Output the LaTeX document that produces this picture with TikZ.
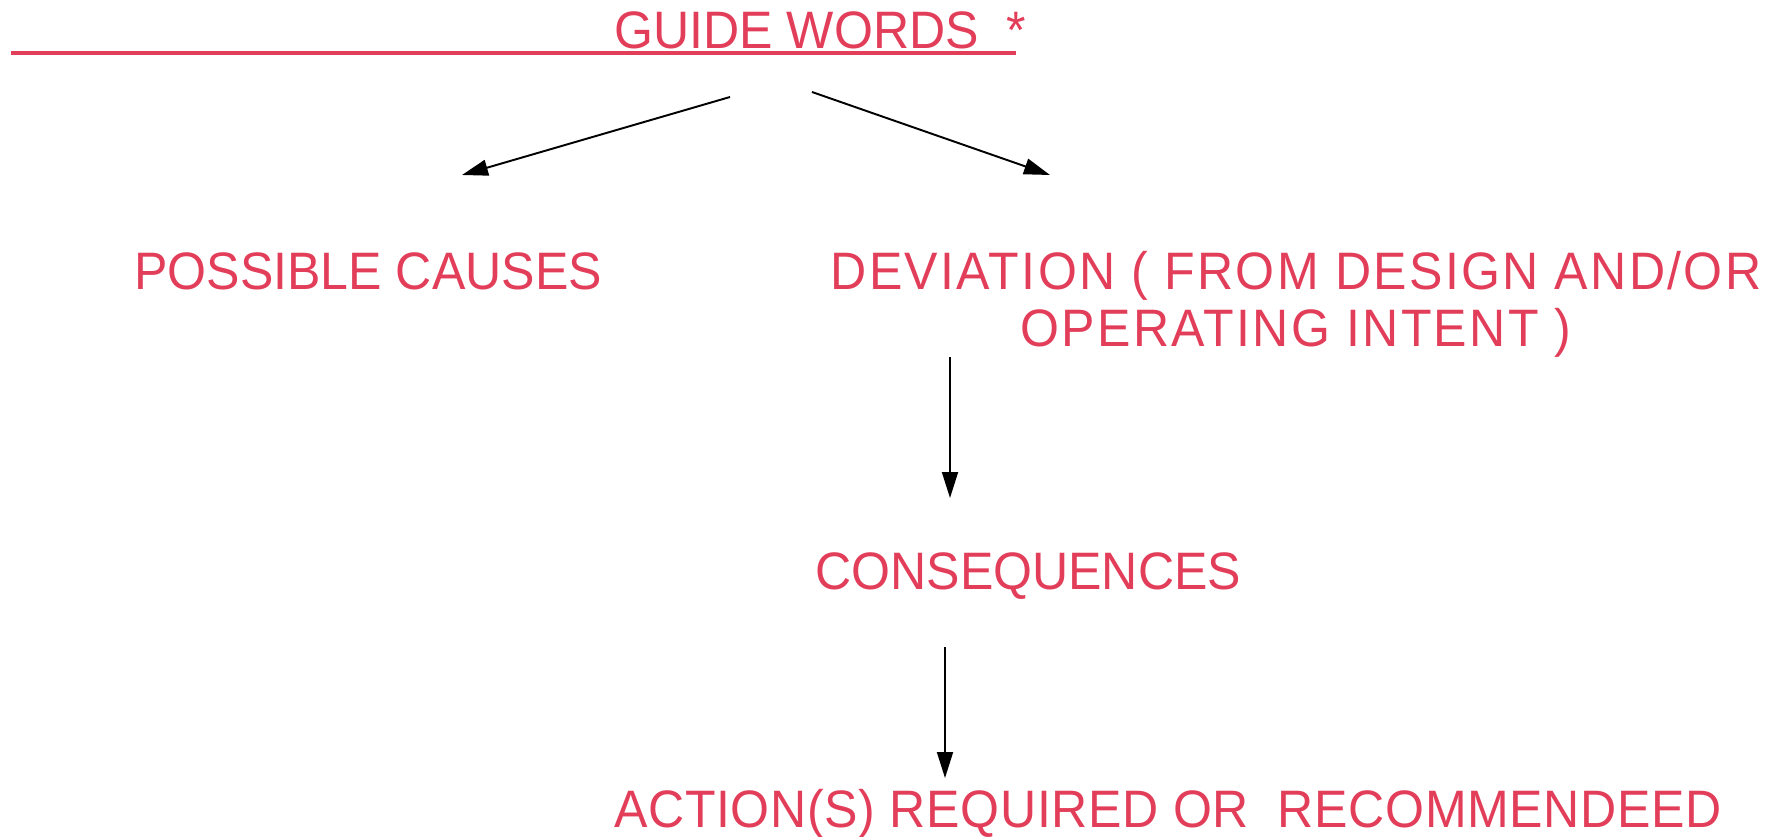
\documentclass[tikz,border=0pt]{standalone}
\usepackage{fontspec}
\setmainfont[FakeStretch=0.95]{Liberation Sans}
\usetikzlibrary{arrows.meta}
\definecolor{hazred}{RGB}{226,62,90}

\begin{document}
\begin{tikzpicture}[>={Triangle[length=5.2mm,width=3.2mm]},x=0.02cm,y=-0.02cm,
  lbl/.style={text=hazred,inner sep=0pt,font=\fontsize{30}{33}\selectfont},
  arr/.style={->,line width=1.1pt}]
  \useasboundingbox (0,0) rectangle (1774,837);
  % heading
  \node[lbl,anchor=base west] (gw) at (614,49) {GUIDE WORDS~~*};
  \draw[hazred,line width=0.07cm] (11,53) -- (1016,53);
  % boxes
  \node[lbl,anchor=base west] (cause) at (134,290) {POSSIBLE CAUSES};
  \node[lbl,anchor=base,align=center,
    font=\fontsize{30}{33}\selectfont\addfontfeature{LetterSpace=4.4}] (dev) at (1296,347)
    {DEVIATION ( FROM DESIGN AND/OR\\ OPERATING INTENT )};
  \node[lbl,anchor=base west] (cons) at (815,589) {CONSEQUENCES};
  \node[lbl,anchor=base west,
    font=\fontsize{30}{33}\selectfont\addfontfeature{LetterSpace=1.2}] (act) at (614,827)
    {ACTION(S) REQUIRED OR~~RECOMMENDEED};
  % arrow ends
  \coordinate (gwL) at (730,97);
  \coordinate (causeT) at (462,175);
  \coordinate (gwR) at (812,92);
  \coordinate (devT) at (1050,175);
  \coordinate (devB) at (950,357);
  \coordinate (consT) at (950,498);
  \coordinate (consB) at (945,647);
  \coordinate (actT) at (945,778);
  \draw[arr] (gwL) -- (causeT);
  \draw[arr] (gwR) -- (devT);
  \draw[arr] (devB) -- (consT);
  \draw[arr] (consB) -- (actT);
\end{tikzpicture}
\end{document}
